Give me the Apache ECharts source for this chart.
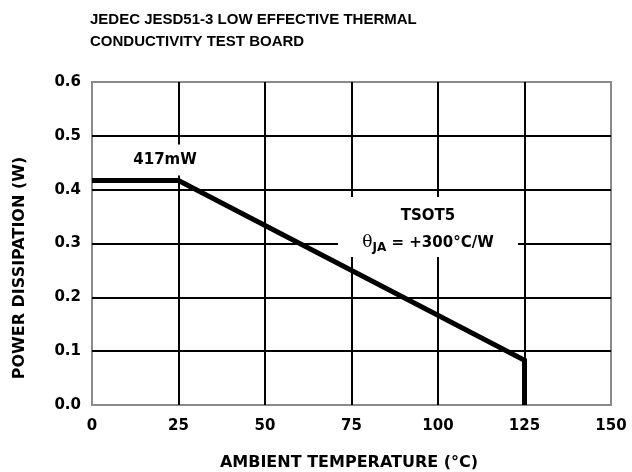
<!DOCTYPE html>
<html>
<head>
<meta charset="utf-8">
<script src="https://cdn.jsdelivr.net/npm/echarts@6/dist/echarts.min.js"></script>
<style>
  html, body { margin: 0; padding: 0; background: #fff; }
  #chart { width: 632px; height: 472px; }
</style>
</head>
<body>
<div id="chart"></div>
<script>
// Derating curve: ambient temperature (°C) vs. maximum power dissipation (W)
const temperatures = [0, 25, 125, 125];
const powerW = [0.417, 0.417, 0.0833, 0];
const xTicks = [0, 25, 50, 75, 100, 125, 150];
const yTicks = [0, 0.1, 0.2, 0.3, 0.4, 0.5, 0.6];

const titleLines = ['JEDEC JESD51-3 LOW EFFECTIVE THERMAL', 'CONDUCTIVITY TEST BOARD'];
const plateauLabel = '417mW';
const packageName = 'TSOT5';
const xTitle = 'AMBIENT TEMPERATURE (°C)';
const yTitle = 'POWER DISSIPATION (W)';

const TITLE_FONT = 'Liberation Sans, Arial, sans-serif';
const FONT = 'DejaVu Sans, sans-serif';

const chart = echarts.init(document.getElementById('chart'), null, { renderer: 'canvas' });

chart.setOption({
  animation: false,
  backgroundColor: '#fff',
  grid: {
    left: 92, right: 21, top: 82, bottom: 67,
    show: true, borderColor: '#8a8a8a', borderWidth: 2, backgroundColor: 'transparent'
  },
  xAxis: {
    type: 'value', min: 0, max: 150, interval: 25,
    axisLine: { show: false }, axisTick: { show: false },
    axisLabel: {
      color: '#000', fontFamily: FONT, fontWeight: 'bold', fontSize: 15, margin: 14,
      formatter: v => xTicks.includes(v) ? String(v) : ''
    },
    splitLine: { show: true, showMinLine: false, showMaxLine: false, lineStyle: { color: '#000', width: 2 } }
  },
  yAxis: {
    type: 'value', min: 0, max: 0.6, interval: 0.1,
    axisLine: { show: false }, axisTick: { show: false },
    axisLabel: {
      color: '#000', fontFamily: FONT, fontWeight: 'bold', fontSize: 15, margin: 11,
      formatter: v => yTicks.some(t => Math.abs(t - v) < 1e-9) ? v.toFixed(1) : ''
    },
    splitLine: { show: true, showMinLine: false, showMaxLine: false, lineStyle: { color: '#000', width: 2 } }
  },
  series: [{
    type: 'line',
    data: temperatures.map((t, i) => [t, powerW[i]]),
    symbol: 'none',
    lineStyle: { color: '#000', width: 5, cap: 'butt', join: 'miter' },
    z: 5
  }],
  graphic: [
    {
      type: 'text', left: 90, top: 9,
      style: { text: titleLines.join('\n'), fill: '#000', font: 'bold 15px ' + TITLE_FONT, lineHeight: 22 }
    },
    {
      type: 'text', x: 349, y: 463,
      style: { text: xTitle, fill: '#000', font: 'bold 16px ' + FONT, align: 'center', verticalAlign: 'middle' }
    },
    {
      type: 'text', x: 20, y: 268, rotation: Math.PI / 2,
      style: { text: yTitle, fill: '#000', font: 'bold 16px ' + FONT, align: 'center', verticalAlign: 'middle' }
    },
    {
      type: 'text', x: 165, y: 160, z: 10,
      style: {
        text: plateauLabel, fill: '#000', font: 'bold 15px ' + FONT,
        align: 'center', verticalAlign: 'middle',
        backgroundColor: '#fff', padding: [8, 4]
      }
    },
    {
      type: 'rect', z: 10,
      shape: { x: 338, y: 197, width: 180, height: 60 },
      style: { fill: '#fff' }
    },
    {
      type: 'text', x: 428, y: 216, z: 11,
      style: { text: packageName, fill: '#000', font: 'bold 15px ' + FONT, align: 'center', verticalAlign: 'middle' }
    },
    {
      type: 'text', x: 428, y: 243, z: 11,
      style: {
        text: '{t|θ}{s|JA}{v| = +300°C/W}',
        align: 'center', verticalAlign: 'middle',
        rich: {
          t: { fill: '#000', font: '17px DejaVu Serif, serif' },
          s: { fill: '#000', font: 'bold 12px ' + FONT, padding: [10, 0, 0, 0] },
          v: { fill: '#000', font: 'bold 15px ' + FONT }
        }
      }
    }
  ]
});
</script>
</body>
</html>
